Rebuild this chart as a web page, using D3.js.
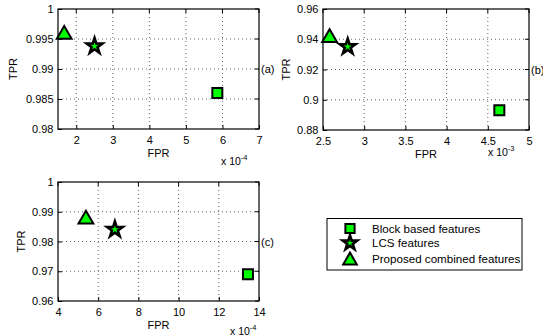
<!DOCTYPE html>
<html><head><meta charset="utf-8">
<script src="https://cdn.jsdelivr.net/npm/d3@7/dist/d3.min.js"></script>
<style>body{margin:0;background:#fff}text{font-family:"Liberation Sans",Arial,sans-serif;}</style>
</head><body><svg id="c" width="543" height="336"></svg>
<script>
const seriesNames = ["Block based features", "LCS features", "Proposed combined features"];
const panelLabels = ["(a)", "(b)", "(c)"];
// FPR (scaled by exponent), TPR per series, per panel
const fprA = [5.86, 2.5, 1.67];
const tprA = [0.986, 0.9938, 0.996];
const fprB = [4.64, 2.80, 2.58];
const tprB = [0.893, 0.935, 0.942];
const fprC = [13.45, 6.83, 5.39];
const tprC = [0.969, 0.984, 0.988];
const xTicksA = [2, 3, 4, 5, 6, 7];
const yTicksA = [0.98, 0.985, 0.99, 0.995, 1];
const xTicksB = [2.5, 3, 3.5, 4, 4.5, 5];
const yTicksB = [0.88, 0.9, 0.92, 0.94, 0.96];
const xTicksC = [4, 6, 8, 10, 12, 14];
const yTicksC = [0.96, 0.97, 0.98, 0.99, 1];
const exponents = ["-4", "-3", "-4"];

const svg = d3.select("#c");
const shapes = [d3.symbolSquare, d3.symbolStar, d3.symbolTriangle];
const sizes = [100, 75, 95];
const FONT = "Liberation Sans, Arial, sans-serif";

const panels = [
  {x0:58, x1:259, y0:9, y1:129, xd:[1.5,7], yd:[0.98,1], fpr:fprA, tpr:tprA, xt:xTicksA, yt:yTicksA, yfmt:d=>String(+d.toFixed(3)), exp:exponents[0], lab:panelLabels[0], ex:221, ey:164.5, tx:17},
  {x0:323, x1:529, y0:9, y1:130, xd:[2.5,5], yd:[0.88,0.96], fpr:fprB, tpr:tprB, xt:xTicksB, yt:yTicksB, yfmt:d=>String(+d.toFixed(2)), exp:exponents[1], lab:panelLabels[1], ex:488, ey:156, tx:290},
  {x0:58, x1:259, y0:182, y1:301, xd:[4,14], yd:[0.96,1], fpr:fprC, tpr:tprC, xt:xTicksC, yt:yTicksC, yfmt:d=>String(+d.toFixed(2)), exp:exponents[2], lab:panelLabels[2], ex:230, ey:335, tx:24.5}
];

panels.forEach(p => {
  const x = d3.scaleLinear().domain(p.xd).range([p.x0, p.x1]);
  const y = d3.scaleLinear().domain(p.yd).range([p.y1, p.y0]);
  const g = svg.append("g");
  // grid
  g.selectAll(".gx").data(p.xt.filter(t => t > p.xd[0] && t < p.xd[1])).join("line")
    .attr("x1", d=>x(d)).attr("x2", d=>x(d)).attr("y1", p.y0).attr("y2", p.y1)
    .attr("stroke", "#222").attr("stroke-width", 0.7).attr("stroke-dasharray", "1,3");
  g.selectAll(".gy").data(p.yt.filter(t => t > p.yd[0] && t < p.yd[1])).join("line")
    .attr("y1", d=>y(d)).attr("y2", d=>y(d)).attr("x1", p.x0).attr("x2", p.x1)
    .attr("stroke", "#222").attr("stroke-width", 0.7).attr("stroke-dasharray", "1,3");
  // axes
  const xa = d3.axisBottom(x).tickValues(p.xt).tickSize(-4).tickPadding(7).tickFormat(d=>String(d));
  const xb = g.append("g").attr("transform", `translate(0,${p.y1})`).call(xa);
  const ya = d3.axisLeft(y).tickValues(p.yt).tickSize(-4).tickPadding(4.5).tickFormat(p.yfmt);
  const yb = g.append("g").attr("transform", `translate(${p.x0},0)`).call(ya);
  [xb, yb].forEach(a => { a.select(".domain").remove(); a.attr("font-size", null).attr("font-family", null);
    a.selectAll("text").attr("font-size", 11).attr("fill", "#000").style("font-family", FONT); a.selectAll("line").attr("stroke", "#000"); });
  // top/right ticks
  g.selectAll(".tx").data(p.xt).join("line").attr("x1", d=>x(d)).attr("x2", d=>x(d)).attr("y1", p.y0).attr("y2", p.y0+4).attr("stroke", "#000");
  g.selectAll(".ty").data(p.yt).join("line").attr("y1", d=>y(d)).attr("y2", d=>y(d)).attr("x1", p.x1).attr("x2", p.x1-4).attr("stroke", "#000");
  g.append("rect").attr("x", p.x0).attr("y", p.y0).attr("width", p.x1-p.x0).attr("height", p.y1-p.y0)
    .attr("fill", "none").attr("stroke", "#000").attr("stroke-width", 1.2);
  // labels
  g.append("text").attr("x", (p.x0+p.x1)/2).attr("y", p.y1+28).attr("text-anchor", "middle").attr("font-size", 11).text("FPR");
  g.append("text").attr("transform", `translate(${p.tx},${(p.y0+p.y1)/2}) rotate(-90)`).attr("text-anchor", "middle").attr("font-size", 11).text("TPR");
  const et = g.append("text").attr("x", p.ex).attr("y", p.ey).attr("font-size", 10.5);
  et.append("tspan").text("x 10");
  et.append("tspan").attr("dy", -5).attr("font-size", 7.5).text(p.exp);
  g.append("text").attr("x", p.x1+2).attr("y", (p.y0+p.y1)/2+4).attr("font-size", 11).text(p.lab);
  // points
  seriesNames.forEach((s, i) => {
    g.append("path").attr("d", d3.symbol().type(shapes[i]).size(sizes[i])())
      .attr("transform", `translate(${x(p.fpr[i])},${y(p.tpr[i]) + (i===2?1.5:0)})`)
      .attr("fill", "#00ff00").attr("stroke", "#000").attr("stroke-width", i===1?2.6:2);
  });
});

// legend
const lg = svg.append("g");
lg.append("rect").attr("x", 327).attr("y", 218.5).attr("width", 195).attr("height", 51.5).attr("fill", "#fff").attr("stroke", "#000").attr("stroke-width", 1);
const rows = [228.5, 243, 259];
seriesNames.forEach((s, i) => {
  lg.append("path").attr("d", d3.symbol().type(shapes[i]).size(sizes[i]*0.85)())
    .attr("transform", `translate(350,${rows[i] + (i===2?1.5:0)})`)
    .attr("fill", "#00ff00").attr("stroke", "#000").attr("stroke-width", i===1?2.6:2);
  lg.append("text").attr("x", 372).attr("y", rows[i]+4).attr("font-size", 11.6).text(s);
});
</script></body></html>
